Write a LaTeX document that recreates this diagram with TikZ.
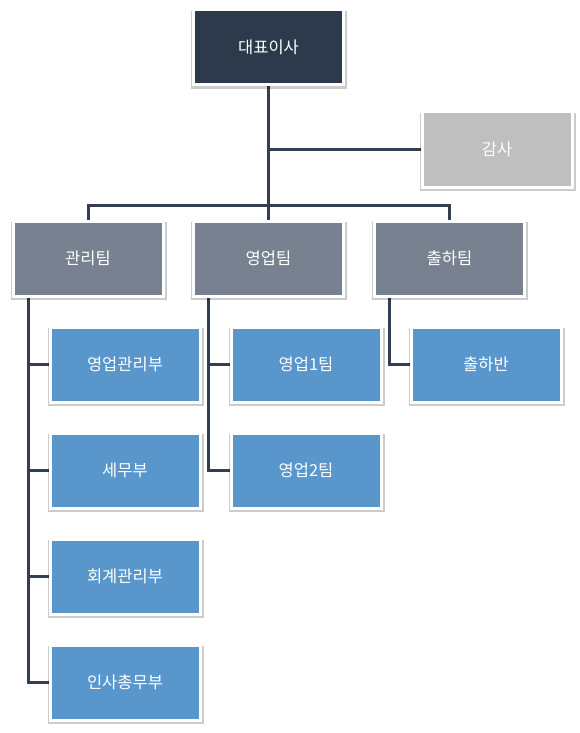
\documentclass[tikz,border=0pt]{standalone}
\usepackage{fontspec}
\setmainfont{Noto Sans CJK KR}
\usetikzlibrary{shadows,backgrounds}
\definecolor{ceo}{HTML}{2C3A4C}
\definecolor{audit}{HTML}{BFBFBF}
\definecolor{team}{HTML}{788190}
\definecolor{unit}{HTML}{5896CC}
\definecolor{wire}{HTML}{333F50}
\tikzset{
  orgbox/.style={draw=white, line width=3pt, minimum width=150pt, minimum height=75pt,
    outer sep=0pt, inner sep=0pt, text=white, font=\fontsize{16.5}{20}\selectfont,
    general shadow={shadow xshift=0.8pt, shadow yshift=-2.5pt, shadow scale=1.04,
      fill=black, opacity=0.2}},
  ceobox/.style={orgbox, fill=ceo},
  auditbox/.style={orgbox, fill=audit},
  teambox/.style={orgbox, fill=team},
  unitbox/.style={orgbox, fill=unit},
  wireline/.style={draw=wire, line width=3pt}
}
\begin{document}
\begin{tikzpicture}[x=1pt, y=-1pt]
\useasboundingbox (0,0) rectangle (580,733);
\node[ceobox] (ceo) at (268.5,47) {대표이사};
\node[auditbox] (audit) at (497,149.5) {감사};
\node[teambox] (mgmt) at (88,258.5) {관리팀};
\node[teambox] (sales) at (268.5,258.5) {영업팀};
\node[teambox] (ship) at (449.5,258.5) {출하팀};
\node[unitbox] (m1) at (125,364.5) {영업관리부};
\node[unitbox] (m2) at (125,470.5) {세무부};
\node[unitbox] (m3) at (125,576.5) {회계관리부};
\node[unitbox] (m4) at (125,682.5) {인사총무부};
\node[unitbox] (s1) at (306,364.5) {영업1팀};
\node[unitbox] (s2) at (306,470.5) {영업2팀};
\node[unitbox] (h1) at (486,364.5) {출하반};
\coordinate (bus) at (268.5,205);
\begin{scope}[on background layer]
\draw[wireline] (ceo.south) -- (bus);
\draw[wireline] (ceo.south |- audit.west) -- (audit.west);
\draw[wireline] (mgmt.north) |- (bus) -| (ship.north);
\draw[wireline] (sales.north) -- (bus);
\draw[wireline] ([xshift=15pt]mgmt.south west) |- (m1.west);
\draw[wireline] ([xshift=15pt]mgmt.south west) |- (m2.west);
\draw[wireline] ([xshift=15pt]mgmt.south west) |- (m3.west);
\draw[wireline] ([xshift=15pt]mgmt.south west) |- (m4.west);
\draw[wireline] ([xshift=15pt]sales.south west) |- (s1.west);
\draw[wireline] ([xshift=15pt]sales.south west) |- (s2.west);
\draw[wireline] ([xshift=15pt]ship.south west) |- (h1.west);
\end{scope}
\end{tikzpicture}
\end{document}
